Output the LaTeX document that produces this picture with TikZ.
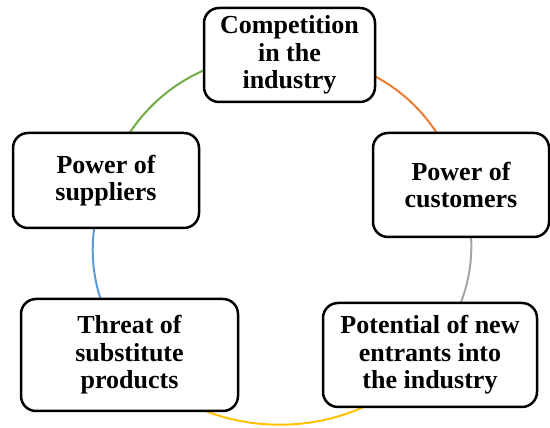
\documentclass[tikz,border=0pt]{standalone}
\usepackage{fontspec}
\setmainfont{Liberation Serif}
\usetikzlibrary{backgrounds}
\definecolor{ringgreen}{HTML}{70AD47}
\definecolor{ringorange}{HTML}{ED7D31}
\definecolor{ringgray}{HTML}{A5A5A5}
\definecolor{ringyellow}{HTML}{FFC000}
\definecolor{ringblue}{HTML}{5B9BD5}
\tikzstyle{force} = [rectangle, rounded corners=15pt, draw=black, line width=2.5pt, fill=white, align=center, inner sep=2pt, font=\bfseries\fontsize{26}{27.5}\selectfont]

\begin{document}
\begin{tikzpicture}[x=1pt,y=1pt]
        \tikzset{ring/.style={line width=2pt}}
        \useasboundingbox (0,0) rectangle (550,428);
        \node (comp) [force, minimum width=171pt, minimum height=94pt] at (289.5,373) {Competition\\in the\\industry};
        \node (cust) [force, minimum width=176pt, minimum height=104pt] at (461,243) {Power of\\customers};
        \node (pot) [force, minimum width=214pt, minimum height=104pt] at (430,73) {Potential of new\\entrants into\\the industry};
        \node (thr) [force, minimum width=217pt, minimum height=112pt] at (129.5,73) {Threat of\\substitute\\products};
        \node (sup) [force, minimum width=186pt, minimum height=95pt] at (106,247.5) {Power of\\suppliers};

        \begin{scope}[on background layer]
        \draw [ring, draw=ringorange] (comp.center) to[bend left=35.6] (cust.center);
        \draw [ring, draw=ringgray] (cust.center) to[bend left=27.9] (pot.center);
        \draw [ring, draw=ringyellow] (pot.center) to[bend left=52.5] (thr.center);
        \draw [ring, draw=ringblue] (thr.center) to[bend left=27.5] (sup.center);
        \draw [ring, draw=ringgreen] (sup.center) to[bend left=36.5] (comp.center);
        \end{scope}
\end{tikzpicture}
\end{document}
